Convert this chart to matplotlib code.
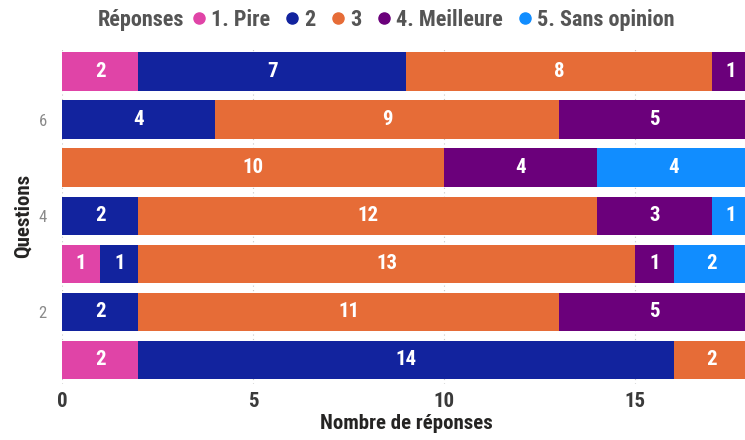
import matplotlib.pyplot as plt
from matplotlib.lines import Line2D
import numpy as np

# Responses per question, one list per answer category (questions 1..7)
questions = [1, 2, 3, 4, 5, 6, 7]
categories = ["1. Pire", "2", "3", "4. Meilleure", "5. Sans opinion"]
pire = [2, 0, 1, 0, 0, 0, 2]
deux = [14, 2, 1, 2, 0, 4, 7]
trois = [2, 11, 13, 12, 10, 9, 8]
meilleure = [0, 5, 1, 3, 4, 5, 1]
sans_opinion = [0, 0, 2, 1, 4, 0, 0]
colors = ["#E044A7", "#12239E", "#E66C37", "#6B007B", "#118DFF"]

x_ticks = [0, 5, 10, 15]
y_ticks = [2, 4, 6]

plt.rcParams["font.family"] = ["Roboto Condensed", "DejaVu Sans"]
plt.rcParams["font.stretch"] = "condensed"

fig = plt.figure(figsize=(7.45, 4.40), dpi=100)
ax = fig.add_axes([62 / 745, 56 / 440, 688 / 745, 336.5 / 440])

series = [pire, deux, trois, meilleure, sans_opinion]
left = np.zeros(len(questions))
for vals, col in zip(series, colors):
    vals = np.array(vals, dtype=float)
    ax.barh(questions, vals, left=left, height=0.8, color=col, zorder=2)
    for q, v, l in zip(questions, vals, left):
        if v > 0:
            ax.text(l + v / 2, q, f"{int(v)}", ha="center", va="center",
                    color="white", fontsize=15, fontweight="bold", zorder=3)
    left += vals

ax.set_xlim(0, 18)
ax.set_ylim(0.5, 7.5)
ax.set_xticks(x_ticks)
ax.set_yticks(y_ticks)
ax.tick_params(axis="both", length=0)
ax.tick_params(axis="x", labelsize=15, labelcolor="#3a3a3a", pad=6)
ax.tick_params(axis="y", labelsize=12, labelcolor="#8a8a8a", pad=11)
for lbl in ax.get_xticklabels():
    lbl.set_fontweight("bold")
for lbl in ax.get_yticklabels():
    lbl.set_fontstretch("normal")
ax.xaxis.grid(True, linestyle=(0, (1, 3)), color="#c8c8c8", linewidth=0.8, zorder=0)
for s in ax.spines.values():
    s.set_visible(False)

ax.set_xlabel("Nombre de réponses", fontsize=15, fontweight="bold", color="#252423", labelpad=2)
ax.set_ylabel("Questions", fontsize=15, fontweight="bold", color="#252423", labelpad=4)

# Legend across the top: title text, then the category entries right after it
title = fig.text(98 / 745, 1 - 20 / 440, "Réponses", fontsize=16, fontweight="bold",
                 color="#555555", ha="left", va="center")
renderer = fig.canvas.get_renderer()
title_end = title.get_window_extent(renderer).x1 / fig.bbox.width

handles = [Line2D([], [], marker="o", linestyle="none", markersize=8,
                  markerfacecolor=c, markeredgecolor=c) for c in colors]
leg = fig.legend(handles, categories, loc="center left", ncol=5, frameon=False,
                 bbox_to_anchor=(title_end + 0.012, 1 - 20 / 440), handlelength=0.5,
                 handletextpad=0.3, columnspacing=0.75, borderaxespad=0, borderpad=0,
                 prop={"size": 16, "weight": "bold"})
for t in leg.get_texts():
    t.set_color("#555555")

fig.savefig("out.png", dpi=100)
